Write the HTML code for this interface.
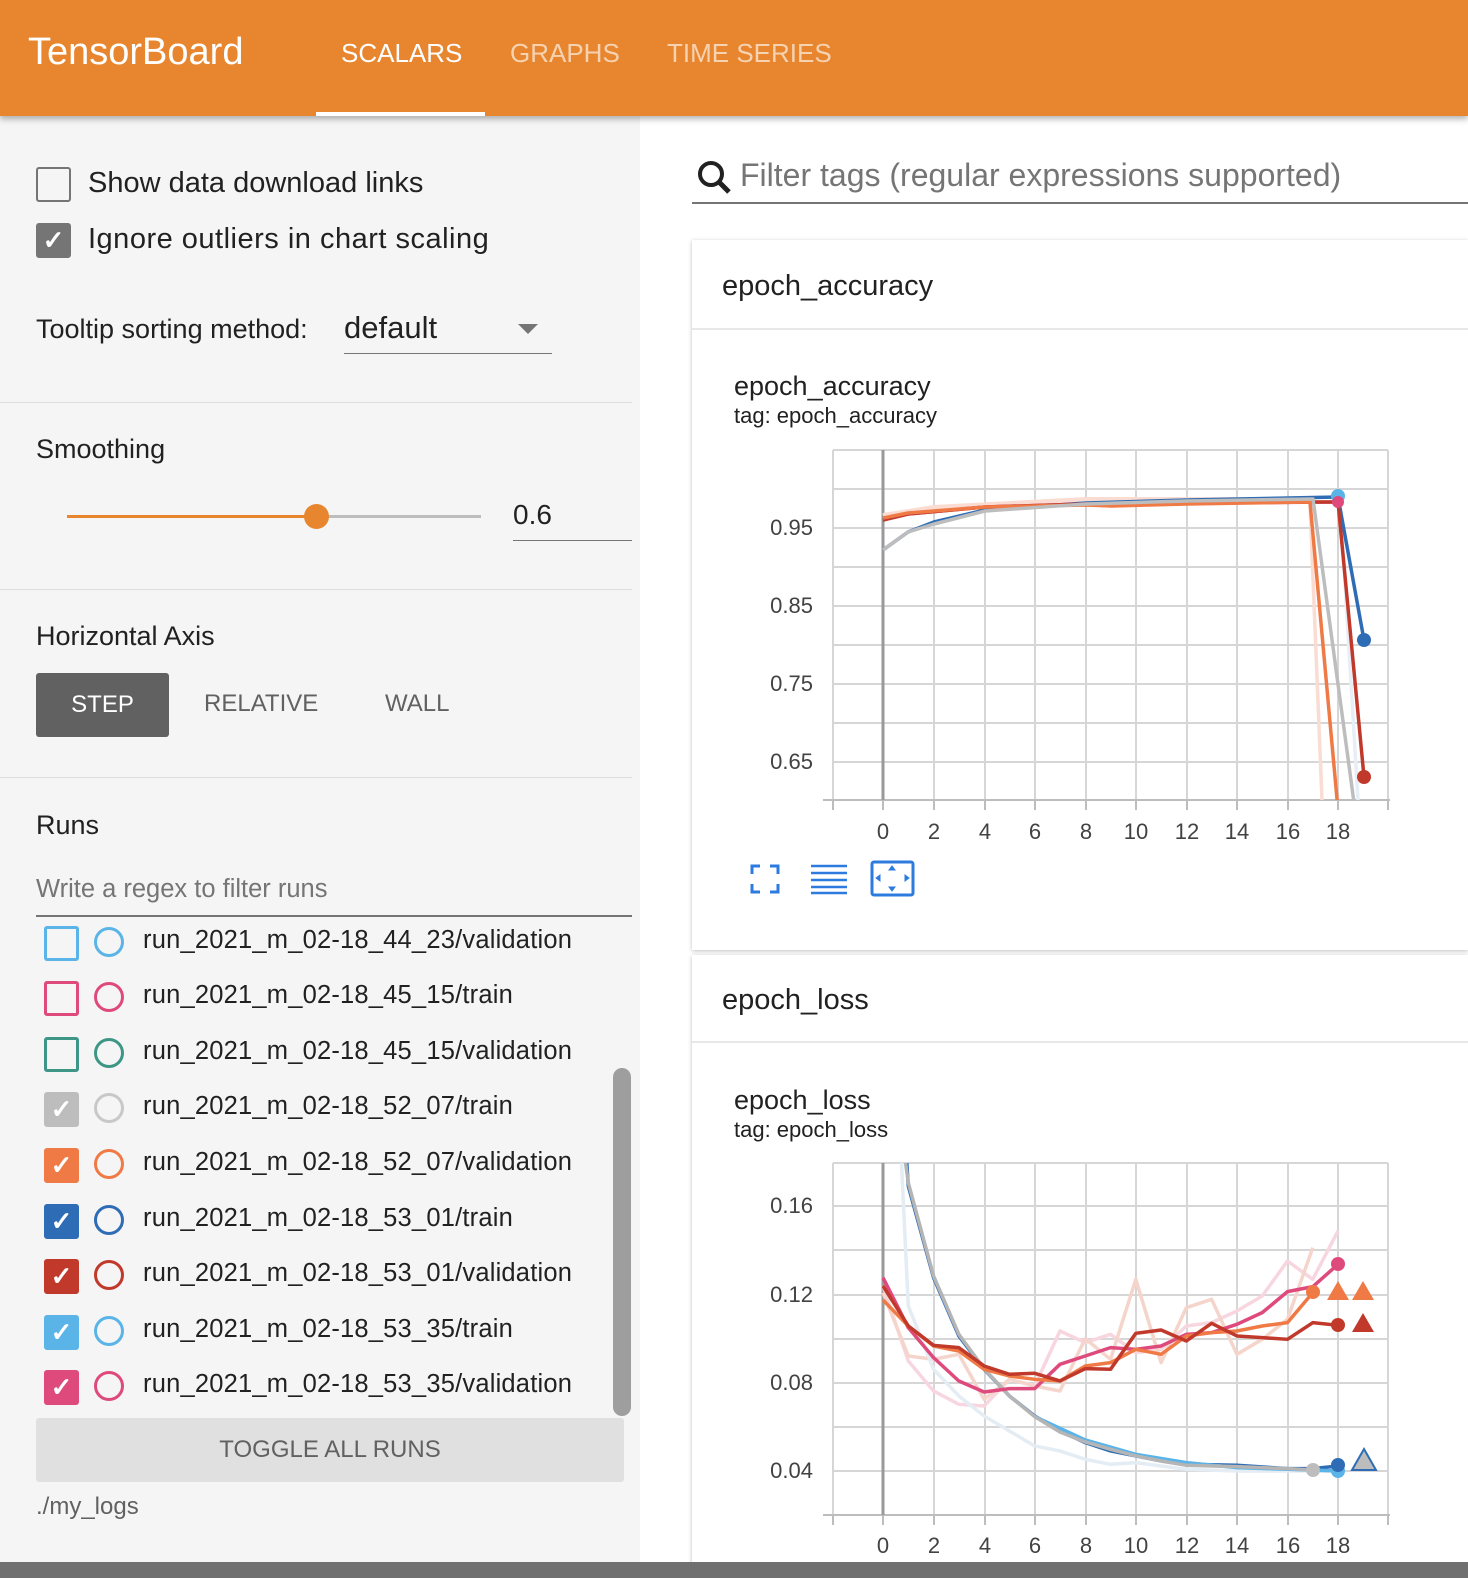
<!DOCTYPE html>
<html><head><meta charset="utf-8"><style>
*{margin:0;padding:0;box-sizing:border-box}
body{width:1468px;height:1578px;overflow:hidden;position:relative;background:#f5f5f5;font-family:"Liberation Sans",sans-serif;color:#212121}
.a{position:absolute;white-space:nowrap}
.hdr{left:0;top:0;width:1468px;height:116px;background:#e8862f;box-shadow:0 3px 6px rgba(0,0,0,.3);z-index:2}
.tab{top:38px;font-size:26px;color:#f6d2b0}
.cb{width:35px;height:35px;border:3px solid;border-radius:3px}
.cir{width:30px;height:30px;border:3px solid;border-radius:50%}
.rt{font-size:25.5px;color:#212121;left:143px;letter-spacing:0.2px}
.sep{left:0;width:632px;height:1px;background:#ddd}
.chk{color:#fff;font-size:26px;line-height:29px;text-align:center;font-weight:bold}
</style></head><body>
<div class="a hdr">
<div class="a" style="left:28px;top:31px;font-size:38px;color:#fff">TensorBoard</div>
<div class="a tab" style="left:341px;color:#fff">SCALARS</div>
<div class="a tab" style="left:510px">GRAPHS</div>
<div class="a tab" style="left:667px">TIME SERIES</div>
<div class="a" style="left:316px;top:112px;width:169px;height:4px;background:#fff"></div>
</div>
<div class="a cb" style="left:36px;top:167px;border-color:#757575;border-width:2px"></div>
<div class="a" style="left:88px;top:167px;font-size:29px">Show data download links</div>
<div class="a cb chk" style="left:36px;top:223px;background:#757575;border-color:#757575">✓</div>
<div class="a" style="left:88px;top:223px;font-size:29px;letter-spacing:0.5px">Ignore outliers in chart scaling</div>
<div class="a" style="left:36px;top:314px;font-size:27px">Tooltip sorting method:</div>
<div class="a" style="left:344px;top:310px;font-size:31px">default</div>
<div class="a" style="left:518px;top:324px;width:0;height:0;border-left:10px solid transparent;border-right:10px solid transparent;border-top:10px solid #757575"></div>
<div class="a" style="left:344px;top:353px;width:208px;height:1px;background:#757575"></div>
<div class="a sep" style="top:402px"></div>
<div class="a" style="left:36px;top:434px;font-size:27px">Smoothing</div>
<div class="a" style="left:67px;top:515px;width:250px;height:3px;background:#e8862f"></div>
<div class="a" style="left:317px;top:515px;width:164px;height:3px;background:#bdbdbd"></div>
<div class="a" style="left:304px;top:504px;width:25px;height:25px;border-radius:50%;background:#e8862f"></div>
<div class="a" style="left:513px;top:499px;font-size:28px">0.6</div>
<div class="a" style="left:513px;top:540px;width:119px;height:1px;background:#757575"></div>
<div class="a sep" style="top:589px"></div>
<div class="a" style="left:36px;top:621px;font-size:27px">Horizontal Axis</div>
<div class="a" style="left:36px;top:673px;width:133px;height:64px;background:#616161;border-radius:3px;color:#fff;font-size:24px;text-align:center;line-height:64px">STEP</div>
<div class="a" style="left:204px;top:690px;font-size:24px;color:#616161">RELATIVE</div>
<div class="a" style="left:385px;top:690px;font-size:24px;color:#616161">WALL</div>
<div class="a sep" style="top:777px"></div>
<div class="a" style="left:36px;top:810px;font-size:27px">Runs</div>
<div class="a" style="left:36px;top:875px;font-size:25.5px;color:#757575">Write a regex to filter runs</div>
<div class="a" style="left:36px;top:915px;width:596px;height:2px;background:#757575"></div>
<div class="a" style="left:0;top:918px;width:640px;height:500px;overflow:hidden">
 <div class="a cb" style="left:44px;top:8px;border-color:#5ab4e8"></div><div class="a cir" style="left:94px;top:9px;border-color:#5ab4e8"></div><div class="a rt" style="top:8px">run_2021_m_02-18_44_23/validation</div>
 <div class="a cb" style="left:44px;top:63px;border-color:#de4a7c"></div><div class="a cir" style="left:94px;top:64px;border-color:#de4a7c"></div><div class="a rt" style="top:63px">run_2021_m_02-18_45_15/train</div>
 <div class="a cb" style="left:44px;top:119px;border-color:#3d9686"></div><div class="a cir" style="left:94px;top:120px;border-color:#3d9686"></div><div class="a rt" style="top:119px">run_2021_m_02-18_45_15/validation</div>
 <div class="a cb chk" style="left:44px;top:174px;border-color:#bdbdbd;background:#bdbdbd">✓</div><div class="a cir" style="left:94px;top:175px;border-color:#c8c8c8"></div><div class="a rt" style="top:174px">run_2021_m_02-18_52_07/train</div>
 <div class="a cb chk" style="left:44px;top:230px;border-color:#f07a46;background:#f07a46">✓</div><div class="a cir" style="left:94px;top:231px;border-color:#f07a46"></div><div class="a rt" style="top:230px">run_2021_m_02-18_52_07/validation</div>
 <div class="a cb chk" style="left:44px;top:286px;border-color:#2e6db5;background:#2e6db5">✓</div><div class="a cir" style="left:94px;top:287px;border-color:#2e6db5"></div><div class="a rt" style="top:286px">run_2021_m_02-18_53_01/train</div>
 <div class="a cb chk" style="left:44px;top:341px;border-color:#c0392b;background:#c0392b">✓</div><div class="a cir" style="left:94px;top:342px;border-color:#c0392b"></div><div class="a rt" style="top:341px">run_2021_m_02-18_53_01/validation</div>
 <div class="a cb chk" style="left:44px;top:397px;border-color:#5ab4e8;background:#5ab4e8">✓</div><div class="a cir" style="left:94px;top:398px;border-color:#5ab4e8"></div><div class="a rt" style="top:397px">run_2021_m_02-18_53_35/train</div>
 <div class="a cb chk" style="left:44px;top:452px;border-color:#de4a7c;background:#de4a7c">✓</div><div class="a cir" style="left:94px;top:453px;border-color:#de4a7c"></div><div class="a rt" style="top:452px">run_2021_m_02-18_53_35/validation</div>
</div>
<div class="a" style="left:613px;top:1068px;width:18px;height:348px;border-radius:9px;background:#9e9e9e"></div>
<div class="a" style="left:36px;top:1418px;width:588px;height:64px;background:#e0e0e0;border-radius:3px;text-align:center;line-height:64px;font-size:24px;color:#616161">TOGGLE ALL RUNS</div>
<div class="a" style="left:36px;top:1493px;font-size:24px;color:#616161">./my_logs</div>
<div class="a" style="left:640px;top:116px;width:828px;height:1450px;background:#fff"></div>
<svg class="a" style="left:695px;top:157px" width="40" height="40"><circle cx="16" cy="17" r="11" fill="none" stroke="#212121" stroke-width="4"/><line x1="24" y1="25" x2="34" y2="35" stroke="#212121" stroke-width="5"/></svg>
<div class="a" style="left:740px;top:157px;font-size:32px;color:#757575">Filter tags (regular expressions supported)</div>
<div class="a" style="left:692px;top:202px;width:776px;height:2px;background:#757575"></div>
<div class="a" style="left:692px;top:240px;width:776px;height:710px;background:#fff;box-shadow:0 1px 4px rgba(0,0,0,.25)"></div>
<div class="a" style="left:692px;top:328px;width:776px;height:2px;background:#e8e8e8"></div>
<div class="a" style="left:722px;top:270px;font-size:29px">epoch_accuracy</div>
<div class="a" style="left:734px;top:371px;font-size:27px">epoch_accuracy</div>
<div class="a" style="left:734px;top:403px;font-size:22px">tag: epoch_accuracy</div>
<div class="a" style="left:692px;top:955px;width:776px;height:620px;background:#fff;box-shadow:0 1px 4px rgba(0,0,0,.25)"></div>
<div class="a" style="left:692px;top:1041px;width:776px;height:2px;background:#e8e8e8"></div>
<div class="a" style="left:722px;top:984px;font-size:29px">epoch_loss</div>
<div class="a" style="left:734px;top:1085px;font-size:27px">epoch_loss</div>
<div class="a" style="left:734px;top:1117px;font-size:22px">tag: epoch_loss</div>
<svg class="a" style="left:0;top:0" width="1468" height="1578" font-family="Liberation Sans,sans-serif">
<g stroke="#d6d6d6" stroke-width="2">
<path d="M833 450V800M883 450V800M934 450V800M985 450V800M1035 450V800M1086 450V800M1136 450V800M1187 450V800M1237 450V800M1288 450V800M1338 450V800M1388 450V800"/>
<path d="M833 450H1388M833 489H1388M833 528H1388M833 567H1388M833 606H1388M833 645H1388M833 684H1388M833 723H1388M833 762H1388"/>
<path d="M833 1163V1515M883 1163V1515M934 1163V1515M985 1163V1515M1035 1163V1515M1086 1163V1515M1136 1163V1515M1187 1163V1515M1237 1163V1515M1288 1163V1515M1338 1163V1515M1388 1163V1515"/>
<path d="M833 1163H1388M833 1206H1388M833 1250H1388M833 1295H1388M833 1339H1388M833 1383H1388M833 1427H1388M833 1471H1388"/>
</g>
<g stroke="#bdbdbd" stroke-width="2"><path d="M823 800H1390M833 800v10M883 800v10M934 800v10M985 800v10M1035 800v10M1086 800v10M1136 800v10M1187 800v10M1237 800v10M1288 800v10M1338 800v10M1388 800v10"/>
<path d="M823 1515H1390M833 1515v10M883 1515v10M934 1515v10M985 1515v10M1035 1515v10M1086 1515v10M1136 1515v10M1187 1515v10M1237 1515v10M1288 1515v10M1338 1515v10M1388 1515v10"/></g>
<path d="M883 450V800M883 1163V1515" stroke="#999" stroke-width="3"/>
<g font-size="22" fill="#424242" text-anchor="end"><text x="813" y="535">0.95</text><text x="813" y="613">0.85</text><text x="813" y="691">0.75</text><text x="813" y="769">0.65</text>
<text x="813" y="1213">0.16</text><text x="813" y="1302">0.12</text><text x="813" y="1390">0.08</text><text x="813" y="1478">0.04</text></g>
<g font-size="22" fill="#424242" text-anchor="middle">
<text x="883" y="839">0</text><text x="934" y="839">2</text><text x="985" y="839">4</text><text x="1035" y="839">6</text><text x="1086" y="839">8</text><text x="1136" y="839">10</text><text x="1187" y="839">12</text><text x="1237" y="839">14</text><text x="1288" y="839">16</text><text x="1338" y="839">18</text>
<text x="883" y="1553">0</text><text x="934" y="1553">2</text><text x="985" y="1553">4</text><text x="1035" y="1553">6</text><text x="1086" y="1553">8</text><text x="1136" y="1553">10</text><text x="1187" y="1553">12</text><text x="1237" y="1553">14</text><text x="1288" y="1553">16</text><text x="1338" y="1553">18</text></g>
<defs><clipPath id="c1"><rect x="833" y="450" width="556" height="350"/></clipPath><clipPath id="c2"><rect x="833" y="1163" width="556" height="352"/></clipPath></defs>
<g clip-path="url(#c1)" fill="none" stroke-width="3.5" stroke-linejoin="round">
<polyline stroke="#fadcd2" stroke-width="6" points="883,516 934,508 1086,500 1310,500"/>
<polyline stroke="#fadcd2" points="1310,505 1322,800"/><polyline stroke="#e8eef5" points="1340,500 1358,800"/>
<polyline stroke="#2e6db5" points="883,550 908,532 934,522 985,510 1086,503 1187,500 1338,497 1364,640"/>
<polyline stroke="#de4a7c" points="883,520 908,514 985,507 1086,504 1187,503 1338,502"/>
<polyline stroke="#c0392b" points="883,520 908,514 985,507 1086,504 1187,503 1315,502 1338,502 1364,777"/>
<polyline stroke="#f07a46" points="883,518 908,513 985,507 1086,505 1112,506 1187,504 1310,502 1338,810"/>
<polyline stroke="#bdbdbd" points="883,550 908,532 934,524 985,511 1086,504 1187,501 1313,499 1355,810"/>
</g>
<circle cx="1338" cy="496" r="7" fill="#5ab4e8"/><circle cx="1338" cy="502" r="6" fill="#de4a7c"/><circle cx="1364" cy="640" r="7" fill="#2e6db5"/><circle cx="1364" cy="777" r="7" fill="#c0392b"/>
<g clip-path="url(#c2)" fill="none" stroke-width="3.5" stroke-linejoin="round">
<g transform="translate(883,1146) scale(25.28,0.3333)">
<polyline vector-effect="non-scaling-stroke" stroke="#f8d6e0" points="0,420 1,645 2,735 3,775 4,780 5,700 6,720 7,555 8,590 9,565 10,620 11,610 12,540 13,530 14,495 15,450 16,345 17,400 18,255"/>
<polyline vector-effect="non-scaling-stroke" stroke="#f5d5cb" points="0,440 1,630 2,640 3,625 4,760 5,700 6,720 7,735 8,578 9,640 10,400 11,650 12,485 13,460 14,625 15,580 16,520 17,305"/>
<polyline vector-effect="non-scaling-stroke" stroke="#e4ecf4" points="0.7,0 1,480 2,670 3,750 4,810 5,855 6,900 7,915 8,940 9,955 10,950 12,970 14,975 18,975"/>
<polyline vector-effect="non-scaling-stroke" stroke="#2e6db5" points="0.9,0 1,120 2,395 3,570 4,670 5,750 6,810 7,855 8,890 9,915 10,930 11,945 12,955 14,958 16,968 17,968 18,960"/>
<polyline vector-effect="non-scaling-stroke" stroke="#5ab4e8" points="6,812 8,882 10,925 12,950 14,965 16,970 18,975"/>
<polyline vector-effect="non-scaling-stroke" stroke="#b5b5b5" points="0.8,0 1,110 2,390 3,565 4,668 5,750 6,812 7,858 8,888 9,910 10,930 11,945 12,958 14,962 16,968 17,972"/>
<polyline vector-effect="non-scaling-stroke" stroke="#de4a7c" points="0,395 1,545 2,635 3,705 4,738 5,728 6,728 7,655 8,630 9,605 10,610 11,600 12,565 13,560 14,535 15,500 16,437 17,422 18,355"/>
<polyline vector-effect="non-scaling-stroke" stroke="#f07a46" points="0,462 1,540 2,600 3,615 4,670 5,690 6,700 7,705 8,660 9,650 10,610 11,625 12,570 13,560 14,555 15,540 16,530 17,440"/>
<polyline vector-effect="non-scaling-stroke" stroke="#c0392b" points="0,420 1,540 2,598 3,605 4,660 5,685 6,682 7,705 8,668 9,670 10,562 11,552 12,585 13,532 14,570 15,575 16,580 17,530 18,538"/>
</g></g>
<circle cx="1338" cy="1264" r="7" fill="#de4a7c"/><circle cx="1313" cy="1292" r="7" fill="#f07a46"/>
<path d="M1327 1300l11-19 11 19zM1352 1300l11-19 11 19z" fill="#f07a46"/>
<circle cx="1338" cy="1325" r="7" fill="#c0392b"/><path d="M1352 1332l11-19 11 19z" fill="#c0392b"/>
<circle cx="1313" cy="1470" r="7" fill="#bdbdbd"/><circle cx="1338" cy="1471" r="7" fill="#5ab4e8"/><circle cx="1338" cy="1465" r="7" fill="#2e6db5"/>
<path d="M1352 1470l12-21 12 21z" fill="#bdbdbd" stroke="#2e6db5" stroke-width="2"/>
<g stroke="#2e7be0" stroke-width="3" fill="none"><path d="M752 874v-8h8M770 866h8v8M778 884v8h-8M760 892h-8v-8"/>
<path d="M811 866h36M811 873h36M811 880h36M811 887h36M811 893h36" stroke-width="2.5"/>
<rect x="872" y="862" width="41" height="33" rx="2"/><path d="M892 866l-3 4h6zM892 891l-3-4h6zM876 878l4-3v6zM909 878l-4-3v6z" fill="#2e7be0" stroke-width="1"/></g>
</svg>
<div class="a" style="left:0;top:1562px;width:1468px;height:16px;background:#707070"></div>
</body></html>
